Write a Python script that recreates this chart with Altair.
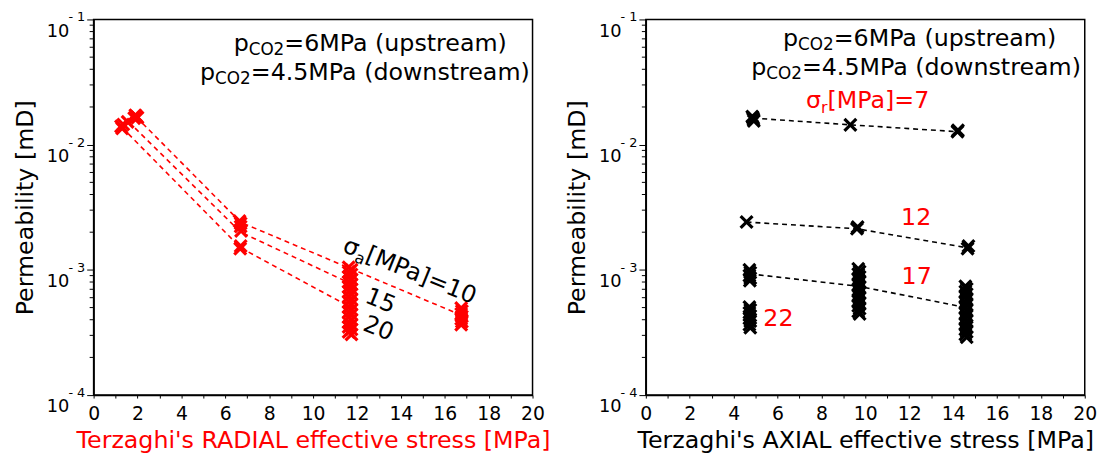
import altair as alt
import pandas as pd

FONT = "DejaVu Sans"
RED = "#ff0000"
BLACK = "#000000"
X_SHAPE = "M-1,-1L1,1M-1,1L1,-1"
W, H = 444, 380

# ---------------- left panel: radial effective stress (red) ----------------
rad_line_series = ["10", "10", "10", "15", "15", "15", "20", "20", "20"]
rad_line_x = [1.95, 6.70, 16.75, 1.60, 6.70, 11.70, 1.30, 6.70, 11.65]
rad_line_k = [0.0166, 0.00240, 0.000435, 0.0152, 0.00200, 0.00078, 0.0137, 0.00150, 0.00051]

rad_pt_x = [1.25, 1.30, 1.35, 1.55, 1.85, 1.90, 1.95, 2.00,
            6.65, 6.70, 6.70, 6.72, 6.70, 6.68,
            11.62, 11.75, 11.62, 11.75, 11.62, 11.75, 11.62, 11.75, 11.62, 11.75,
            11.62, 11.75, 11.62, 11.75, 11.62, 11.75, 11.62, 11.75, 11.62, 11.75,
            11.62, 11.75, 11.62, 11.75, 11.62, 11.75, 11.62, 11.75,
            16.75, 16.78, 16.75, 16.78, 16.75, 16.78, 16.75]
rad_pt_k = [0.0140, 0.0135, 0.0145, 0.0152, 0.0163, 0.0172, 0.0168, 0.0165,
            0.00245, 0.00235, 0.00222, 0.00205, 0.00155, 0.00148,
            0.00105, 0.00100, 0.00096, 0.00092, 0.00088, 0.00084, 0.00080, 0.000765, 0.00073, 0.00070,
            0.00067, 0.00064, 0.00061, 0.00058, 0.000555, 0.00053, 0.000505, 0.00048, 0.00046, 0.00044,
            0.00042, 0.00040, 0.00038, 0.000365, 0.00035, 0.000335, 0.00032, 0.000305,
            0.000495, 0.00047, 0.000445, 0.000425, 0.000405, 0.000385, 0.000365]

# ---------------- right panel: axial effective stress (black) ----------------
ax_line_series = ["7", "7", "7", "12", "12", "12", "17", "17", "17"]
ax_line_x = [4.90, 9.32, 14.20, 4.59, 9.62, 14.66, 4.74, 9.70, 14.60]
ax_line_k = [0.0163, 0.0144, 0.0127, 0.00241, 0.00213, 0.00150, 0.00093, 0.00074, 0.00050]

ax_pt_x = [4.85, 4.90, 4.92, 4.88, 9.32, 14.20, 14.22,
           4.59, 9.62, 9.65, 14.66, 14.70,
           4.72, 4.76, 4.72, 4.76, 4.74,
           9.68, 9.74, 9.68, 9.74, 9.68, 9.74, 9.68, 9.74, 9.68,
           9.74, 9.68, 9.74, 9.68, 9.74, 9.68, 9.74, 9.68, 9.74,
           14.56, 14.62, 14.56, 14.62, 14.56, 14.62, 14.56, 14.62, 14.56, 14.62,
           14.56, 14.62, 14.56, 14.62, 14.56, 14.62, 14.56, 14.62, 14.56, 14.62,
           4.72, 4.76, 4.72, 4.76, 4.72, 4.76, 4.72, 4.76]
ax_pt_k = [0.0168, 0.0160, 0.0155, 0.0164, 0.0144, 0.0127, 0.0130,
           0.00241, 0.00213, 0.00220, 0.00148, 0.00155,
           0.00100, 0.00095, 0.00090, 0.00086, 0.00082,
           0.00102, 0.00097, 0.000925, 0.00088, 0.00084, 0.00080, 0.00076, 0.000725, 0.00069,
           0.000655, 0.000625, 0.000595, 0.000565, 0.00054, 0.000515, 0.00049, 0.000465, 0.000445,
           0.00074, 0.000705, 0.00067, 0.00064, 0.00061, 0.00058, 0.00055, 0.000525, 0.00050, 0.000475,
           0.00045, 0.00043, 0.00041, 0.00039, 0.00037, 0.00035, 0.000335, 0.00032, 0.000305, 0.00029,
           0.000505, 0.00048, 0.000455, 0.00043, 0.00041, 0.00039, 0.000365, 0.000345]

# ---------------- annotations ----------------
pco2_main = ["=6MPa (upstream)", "=4.5MPa (downstream)"]
pco2_left_x = [6.38, 4.85]
pco2_left_k = [0.0559, 0.0330]
pco2_right_x = [6.25, 4.80]
pco2_right_k = [0.0612, 0.0361]

sa_label_x, sa_label_k = [11.29], [0.00141]
sa_num_text = ["15", "20"]
sa_num_x = [13.06, 12.97]
sa_num_k = [0.000562, 0.000338]

sr_label_x, sr_label_k = [7.30], [0.01948]
sr_num_text = ["12", "17", "22"]
sr_num_x = [12.32, 12.34, 6.04]
sr_num_k = [0.00259, 0.000871, 0.000405]

# ---------------- axis ticks ----------------
x_ticks = list(range(0, 21))
y_decades = [1e-4, 1e-3, 1e-2, 1e-1]
y_exponents = ["- 4", "- 3", "- 2", "- 1"]
y_minor = [2e-4, 3e-4, 4e-4, 5e-4, 6e-4, 7e-4, 8e-4, 9e-4,
           2e-3, 3e-3, 4e-3, 5e-3, 6e-3, 7e-3, 8e-3, 9e-3,
           2e-2, 3e-2, 4e-2, 5e-2, 6e-2, 7e-2, 8e-2, 9e-2]


def panel(line_df, pt_df, color, xtitle, xtitle_color, extra):
    xs = alt.Scale(domain=[0, 20], nice=False, zero=False)
    ys = alt.Scale(type="log", domain=[1e-4, 1e-1], nice=False)
    xaxis = alt.Axis(values=x_ticks, labelExpr="datum.value % 2 == 0 ? datum.label : ''",
                     tickSize=3, tickColor=BLACK, domainColor=BLACK, domainWidth=1.5,
                     labelFont=FONT, labelFontSize=19, labelColor=BLACK, labelPadding=7,
                     labelFlush=False, labelOverlap=False, grid=False,
                     title=xtitle, titleFont=FONT, titleFontSize=24, titleFontWeight="normal",
                     titleColor=xtitle_color, titlePadding=5)
    yaxis = alt.Axis(values=y_decades, labelExpr="'10'", tickSize=7, tickColor=BLACK,
                     domainColor=BLACK, domainWidth=1.5, labelFont=FONT, labelFontSize=18,
                     labelColor=BLACK, labelAlign="right", labelBaseline="alphabetic",
                     labelOffset=17, labelPadding=18, labelFlush=False, labelOverlap=False,
                     grid=False, title="Permeability [mD]", titleFont=FONT, titleFontSize=24,
                     titleFontWeight="normal", titleColor=BLACK, titlePadding=9)
    X = alt.X("x:Q", scale=xs, axis=xaxis)
    Y = alt.Y("k:Q", scale=ys, axis=yaxis)

    lines = alt.Chart(line_df).mark_line(strokeDash=[5, 4], strokeWidth=1.6, color=color).encode(
        x=X, y=Y, detail="s:N")
    pts = alt.Chart(pt_df).mark_point(shape=X_SHAPE, filled=False, strokeWidth=3.2, size=144,
                                      color=color, opacity=1).encode(x=X, y=Y)
    minor = alt.Chart(pd.DataFrame({"k": y_minor})).mark_rule(color=BLACK, strokeWidth=1).encode(
        y=Y, x=alt.value(0), x2=alt.value(-4))
    expo = alt.Chart(pd.DataFrame({"k": y_decades, "t": y_exponents})).mark_text(
        align="left", baseline="alphabetic", fontSize=13, font=FONT, color=BLACK, dy=2).encode(
        x=alt.value(-25.5), y=Y, text="t:N")
    layers = [lines, pts, minor, expo]
    for df, kw in extra:
        layers.append(alt.Chart(df).mark_text(font=FONT, **kw).encode(x=X, y=Y, text="t:N"))
    return alt.layer(*layers).properties(width=W, height=H)


def pco2_layers(xv, kv):
    return [
        (pd.DataFrame({"x": xv, "k": kv, "t": ["p", "p"]}),
         dict(align="left", baseline="alphabetic", fontSize=24, color=BLACK)),
        (pd.DataFrame({"x": xv, "k": kv, "t": ["CO2", "CO2"]}),
         dict(align="left", baseline="alphabetic", fontSize=17, color=BLACK, dx=15.2, dy=4)),
        (pd.DataFrame({"x": xv, "k": kv, "t": pco2_main}),
         dict(align="left", baseline="alphabetic", fontSize=24, color=BLACK, dx=51.3)),
    ]


left_extra = pco2_layers(pco2_left_x, pco2_left_k) + [
    (pd.DataFrame({"x": sa_label_x, "k": sa_label_k, "t": ["σ"]}),
     dict(align="left", baseline="alphabetic", fontSize=24, color=BLACK, angle=22)),
    (pd.DataFrame({"x": sa_label_x, "k": sa_label_k, "t": ["a"]}),
     dict(align="left", baseline="alphabetic", fontSize=16, color=BLACK, angle=22, dx=15.2, dy=5)),
    (pd.DataFrame({"x": sa_label_x, "k": sa_label_k, "t": ["[MPa]=10"]}),
     dict(align="left", baseline="alphabetic", fontSize=24, color=BLACK, angle=22, dx=25.0)),
    (pd.DataFrame({"x": sa_num_x, "k": sa_num_k, "t": sa_num_text}),
     dict(align="center", baseline="middle", fontSize=24, color=BLACK, angle=22)),
]

right_extra = pco2_layers(pco2_right_x, pco2_right_k) + [
    (pd.DataFrame({"x": sr_label_x, "k": sr_label_k, "t": ["σ"]}),
     dict(align="left", baseline="alphabetic", fontSize=24, color=RED)),
    (pd.DataFrame({"x": sr_label_x, "k": sr_label_k, "t": ["r"]}),
     dict(align="left", baseline="alphabetic", fontSize=16, color=RED, dx=15.2, dy=5)),
    (pd.DataFrame({"x": sr_label_x, "k": sr_label_k, "t": ["[MPa]=7"]}),
     dict(align="left", baseline="alphabetic", fontSize=24, color=RED, dx=21.8)),
    (pd.DataFrame({"x": sr_num_x, "k": sr_num_k, "t": sr_num_text}),
     dict(align="center", baseline="middle", fontSize=24, color=RED)),
]

left = panel(pd.DataFrame({"x": rad_line_x, "k": rad_line_k, "s": rad_line_series}),
             pd.DataFrame({"x": rad_pt_x, "k": rad_pt_k}),
             RED, "Terzaghi's RADIAL effective stress [MPa]", RED, left_extra)
right = panel(pd.DataFrame({"x": ax_line_x, "k": ax_line_k, "s": ax_line_series}),
              pd.DataFrame({"x": ax_pt_x, "k": ax_pt_k}),
              BLACK, "Terzaghi's AXIAL effective stress [MPa]", BLACK, right_extra)

chart = alt.hconcat(left, right, spacing=13.6).configure_view(
    stroke=BLACK, strokeWidth=1.5).properties(
    background="white", padding={"left": 4.6, "top": 0, "right": 0, "bottom": 0})

chart.save("out.html", embed_options={"renderer": "svg", "actions": False})
